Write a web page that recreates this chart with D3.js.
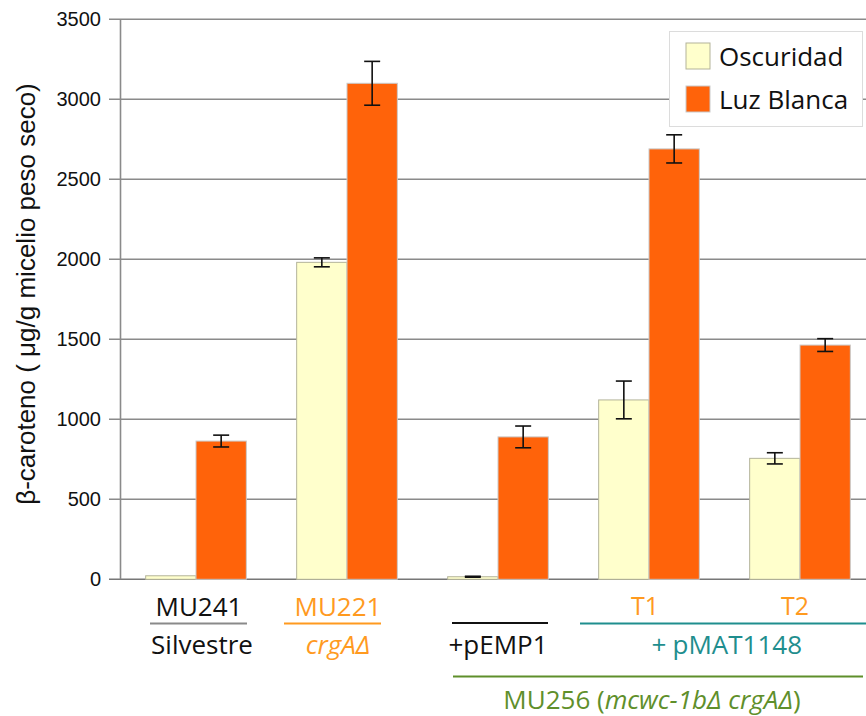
<!DOCTYPE html>
<html><head><meta charset="utf-8">
<script src="https://cdn.jsdelivr.net/npm/d3@7"></script>
<style>body{margin:0;background:#fff}svg{display:block}</style>
</head><body><svg id="c" width="866" height="716"></svg>
<script>
const groups = ["MU241","MU221","pEMP1","T1","T2"];
const series = ["Oscuridad","Luz Blanca"];
const darkVals = [22, 1981, 16, 1121, 756];
const darkErr  = [0, 28, 3, 118, 35];
const lightVals = [864, 3100, 890, 2690, 1464];
const lightErr  = [37, 137, 68, 88, 40];
const yTicks = [0,500,1000,1500,2000,2500,3000,3500];

const svg = d3.select("#c");
const y = d3.scaleLinear().domain([0,3500]).range([579.3,19.3]);
const x = d3.scaleBand().domain(groups).range([120.5,875.5]).paddingInner(1/3).paddingOuter(1/6);
const xs = d3.scaleBand().domain(series).range([0,x.bandwidth()]);
const colors = {"Oscuridad":"#FFFFCC","Luz Blanca":"#FF630A"};
const strokes = {"Oscuridad":"#b3b39a","Luz Blanca":"#c9c9c9"};

// gridlines
svg.append("g").selectAll("line").data(yTicks).join("line")
  .attr("x1",109).attr("x2",866).attr("y1",d=>y(d)).attr("y2",d=>y(d))
  .attr("stroke",d=>d===0?"#777":"#8a8a8a").attr("stroke-width",1.6);
// axis line
svg.append("line").attr("x1",120.5).attr("x2",120.5).attr("y1",y(3500)).attr("y2",y(0))
  .attr("stroke","#8a8a8a").attr("stroke-width",1.6);
// tick labels
svg.append("g").selectAll("text").data(yTicks).join("text")
  .attr("x",101).attr("y",d=>y(d)+7).attr("text-anchor","end")
  .attr("font-family","Liberation Sans, Arial, sans-serif").attr("font-size",20).attr("fill","#111")
  .text(d=>d);
// y title
svg.append("text").attr("transform","translate(35,294) rotate(-90)").attr("text-anchor","middle")
  .attr("font-family","Liberation Sans, Arial, sans-serif").attr("font-size",26).attr("fill","#111")
  .text("β-caroteno ( μg/g micelio peso seco)");

// bars
const rows = [];
groups.forEach((g,i)=>{
  rows.push({g, s:"Oscuridad", v:darkVals[i], e:darkErr[i]});
  rows.push({g, s:"Luz Blanca", v:lightVals[i], e:lightErr[i]});
});
svg.append("g").selectAll("rect").data(rows).join("rect")
  .attr("x",d=>x(d.g)+xs(d.s)).attr("width",xs.bandwidth())
  .attr("y",d=>y(d.v)).attr("height",d=>y(0)-y(d.v))
  .attr("fill",d=>colors[d.s]).attr("stroke",d=>strokes[d.s]).attr("stroke-width",1);
// error bars
const eb = svg.append("g").attr("stroke","#111").attr("stroke-width",1.6);
rows.filter(d=>d.e>0).forEach(d=>{
  const cx = x(d.g)+xs(d.s)+xs.bandwidth()/2;
  eb.append("line").attr("x1",cx).attr("x2",cx).attr("y1",y(d.v+d.e)).attr("y2",y(d.v-d.e));
  eb.append("line").attr("x1",cx-8).attr("x2",cx+8).attr("y1",y(d.v+d.e)).attr("y2",y(d.v+d.e));
  eb.append("line").attr("x1",cx-8).attr("x2",cx+8).attr("y1",y(d.v-d.e)).attr("y2",y(d.v-d.e));
});

// legend
const lg = svg.append("g");
lg.append("rect").attr("x",669.5).attr("y",31.5).attr("width",193).attr("height",95)
  .attr("fill","#fff").attr("stroke","#dcdcdc").attr("stroke-width",1);
series.forEach((s,i)=>{
  lg.append("rect").attr("x",686).attr("y",43+i*43).attr("width",24).attr("height",26)
    .attr("fill",colors[s]).attr("stroke",strokes[s]);
  lg.append("text").attr("x",719).attr("y",66+i*43)
    .attr("font-family","Open Sans, sans-serif").attr("font-size",26).attr("font-weight",500)
    .attr("fill","#111").text(s);
});

// bottom labels
const F = "Open Sans, sans-serif";
const cx = g => x(g)+x.bandwidth()/2;
function txt(xp, yp, parts, color, size){
  const t = svg.append("text").attr("x",xp).attr("y",yp).attr("text-anchor","middle")
    .attr("font-family",F).attr("font-size",size||26).attr("font-weight",500).attr("fill",color);
  parts.forEach(p=>t.append("tspan").attr("font-style",p[1]?"italic":"normal").text(p[0]));
}
function hline(x1,x2,yy,color){
  svg.append("line").attr("x1",x1).attr("x2",x2).attr("y1",yy).attr("y2",yy)
    .attr("stroke",color).attr("stroke-width",2);
}
const ORANGE="#FF9A1F", TEAL="#1F8E8E", GREEN="#5F8F2B";
txt(cx("MU241")+3,616,[["MU241"]],"#111");
hline(cx("MU241")-46,cx("MU241")+51,623.5,"#8a8a8a");
txt(cx("MU241")+6,654,[["Silvestre"]],"#111");
txt(cx("MU221")-9,616,[["MU221"]],ORANGE);
hline(cx("MU221")-63,cx("MU221")+34,623.5,ORANGE);
txt(cx("MU221")-9,654,[["crgAΔ",true]],ORANGE);
hline(cx("pEMP1")-46,cx("pEMP1")+50,623,"#111");
txt(cx("pEMP1"),654,[["+pEMP1"]],"#111");
txt(cx("T1")-4,615,[["T1"]],ORANGE,25);
txt(cx("T2")-5,615,[["T2"]],ORANGE,25);
hline(580,866,623.5,TEAL);
txt((cx("T1")+cx("T2"))/2+2,654,[["+",true],[" pMAT1148"]],TEAL);
hline(453,863,676.5,GREEN);
txt((cx("pEMP1")+cx("T2"))/2+3,709,[["MU256 ("],["mcwc-1bΔ crgAΔ",true],[")"]],GREEN);
</script></body></html>
